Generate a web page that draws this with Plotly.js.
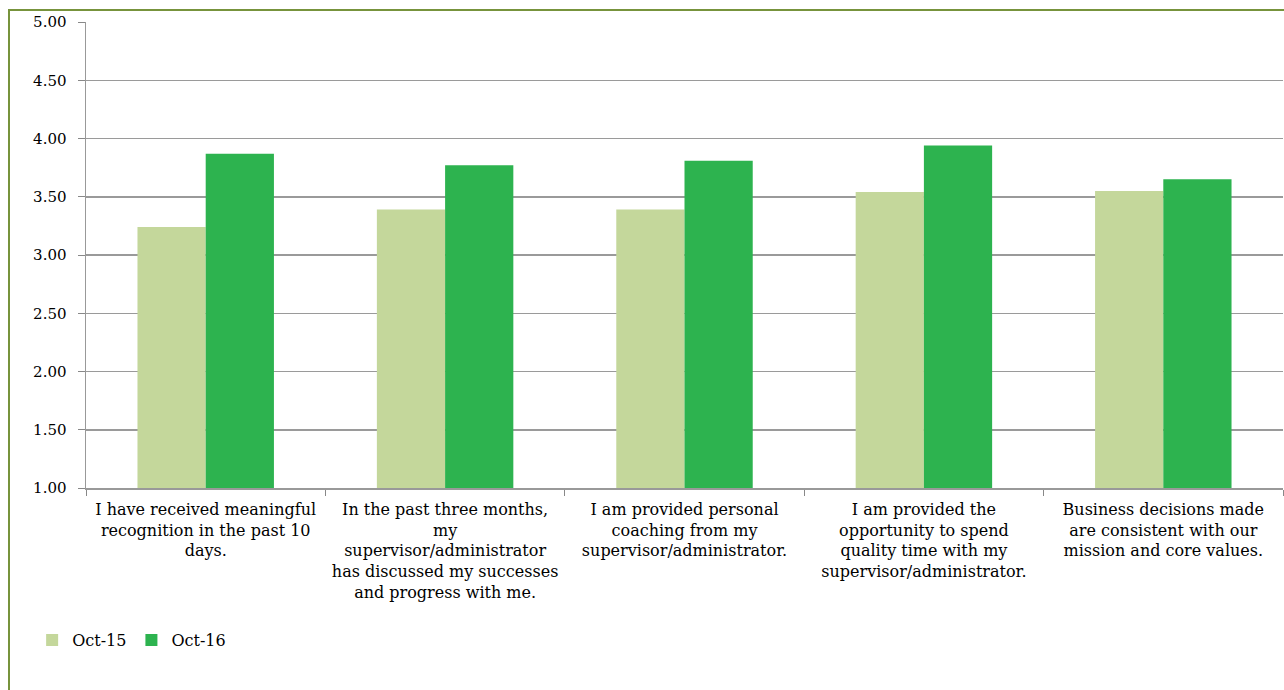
<!DOCTYPE html>
<html>
<head>
<meta charset="utf-8">
<script src="https://cdn.plot.ly/plotly-3.0.1.min.js"></script>
<style>
html,body{margin:0;padding:0;background:#fff;}
#wrap{position:relative;width:1284px;height:690px;overflow:hidden;}
#chart{width:1284px;height:690px;}
#frame{position:absolute;left:8px;top:9px;width:2000px;height:2000px;border:2px solid #77933C;pointer-events:none;}
</style>
</head>
<body>
<div id="wrap"><div id="chart"></div><div id="frame"></div></div>
<script>
const categories = [
  "I have received meaningful<br>recognition in the past 10<br>days.",
  "In the past three months,<br>my<br>supervisor/administrator<br>has discussed my successes<br>and progress with me.",
  "I am provided personal<br>coaching from my<br>supervisor/administrator.",
  "I am provided the<br>opportunity to spend<br>quality time with my<br>supervisor/administrator.",
  "Business decisions made<br>are consistent with our<br>mission and core values."
];
const oct15 = [3.24, 3.39, 3.39, 3.54, 3.55];
const oct16 = [3.87, 3.77, 3.81, 3.94, 3.65];
const seriesNames = ["Oct-15", "Oct-16"];
const yTicks = [1.0, 1.5, 2.0, 2.5, 3.0, 3.5, 4.0, 4.5, 5.0];

const fam = "DejaVu Serif, Liberation Serif, serif";

const data = [
  {type: "bar", name: seriesNames[0], x: categories, y: oct15,
   marker: {color: "#C4D79B"}, hoverinfo: "y"},
  {type: "bar", name: seriesNames[1], x: categories, y: oct16,
   marker: {color: "#2DB34F"}, hoverinfo: "y"}
];

const layout = {
  width: 1284, height: 690,
  margin: {l: 86, r: 1, t: 22, b: 202},
  paper_bgcolor: "#fff", plot_bgcolor: "#fff",
  font: {family: fam, size: 15, color: "#000"},
  barmode: "group", bargap: 0.43, bargroupgap: 0,
  showlegend: true,
  legend: {orientation: "h", x: -0.045, xanchor: "left", y: -0.29, yanchor: "top",
           font: {family: fam, size: 16, color: "#000"}, itemwidth: 30, traceorder: "normal"},
  xaxis: {
    type: "category", tickson: "boundaries", ticks: "outside", ticklen: 6, tickcolor: "#888",
    showline: true, linecolor: "#999", linewidth: 1.5, showgrid: false,
    ticklabelstandoff: 6,
    tickfont: {family: fam, size: 16, color: "#000"}, tickangle: 0, automargin: false
  },
  yaxis: {
    range: [1, 5], tickvals: yTicks, tickformat: ".2f", ticks: "outside", ticklen: 7, tickcolor: "#888",
    showline: true, linecolor: "#999", linewidth: 1.5,
    showgrid: true, gridcolor: "#9A9A9A", gridwidth: 1.5, zeroline: false,
    ticklabelstandoff: 8,
    tickfont: {family: fam, size: 15, color: "#000"}, automargin: false
  }
};

Plotly.newPlot("chart", data, layout, {displayModeBar: false, staticPlot: true});
</script>
</body>
</html>
